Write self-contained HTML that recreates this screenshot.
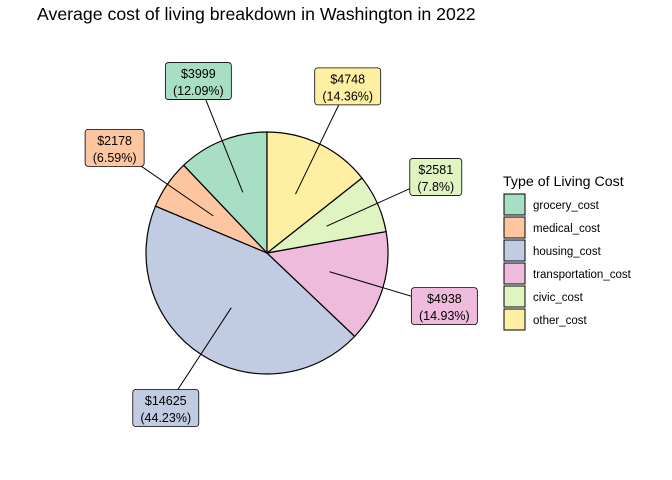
<!DOCTYPE html>
<html><head><meta charset="utf-8"><style>
body{margin:0;background:#fff;}
svg{display:block;font-family:"Liberation Sans",sans-serif;}
</style></head><body>
<svg id="chart" width="672" height="480">
<text x="37" y="20" font-size="17.7" fill="#000">Average cost of living breakdown in Washington in 2022</text>
<g id="slices"></g>
<g id="labels"></g>
<g id="legend">
<text x="503" y="186" font-size="14.2">Type of Living Cost</text>
</g>
</svg>
<script>
const categories = ["grocery_cost","medical_cost","housing_cost","transportation_cost","civic_cost","other_cost"];
const values = [3999,2178,14625,4938,2581,4748];
const percents = ["12.09%","6.59%","44.23%","14.93%","7.8%","14.36%"];
const colors = ["#A8DEC3","#FDC6A1","#C1CBE2","#EFBBDD","#E0F4C1","#FFEFA2"];
const NS="http://www.w3.org/2000/svg";
const cx=267, cy=253, R=121;
const total=values.reduce((a,b)=>a+b,0);
function pt(frac,r){const a=frac*2*Math.PI;return [cx - r*Math.sin(a), cy - r*Math.cos(a)];}
const sg=document.getElementById('slices'), lg=document.getElementById('labels'), leg=document.getElementById('legend');
let cum=0;
values.forEach((v,i)=>{
  const f0=cum/total, f1=(cum+v)/total; cum+=v;
  const p0=pt(f0,R), p1=pt(f1,R);
  const large=(f1-f0)>0.5?1:0;
  const path=document.createElementNS(NS,'path');
  path.setAttribute('d',`M${cx},${cy} L${p0[0]},${p0[1]} A${R},${R} 0 ${large} 0 ${p1[0]},${p1[1]} Z`);
  path.setAttribute('fill',colors[i]);path.setAttribute('stroke','#000');path.setAttribute('stroke-width','1.2');
  
  
  sg.appendChild(path);
  const fm=(f0+f1)/2, pin=pt(fm,R*0.54), pl=pt(fm,R*1.53);
  const ln=document.createElementNS(NS,'line');
  ln.setAttribute('x1',pin[0]);ln.setAttribute('y1',pin[1]);ln.setAttribute('x2',pl[0]);ln.setAttribute('y2',pl[1]);
  ln.setAttribute('stroke','#000');ln.setAttribute('stroke-width','1');
  
  
  lg.appendChild(ln);
  const g=document.createElementNS(NS,'g');
  
  
  const t1='$'+values[i], t2='('+percents[i]+')';
  const w=Math.max(t1.length,t2.length)*7+10, h=37;
  const rect=document.createElementNS(NS,'rect');
  rect.setAttribute('x',pl[0]-w/2);rect.setAttribute('y',pl[1]-h/2);rect.setAttribute('width',w);rect.setAttribute('height',h);
  rect.setAttribute('rx',3);rect.setAttribute('fill',colors[i]);rect.setAttribute('stroke','#000');rect.setAttribute('stroke-width','0.8');
  g.appendChild(rect);
  [t1,t2].forEach((s,k)=>{const t=document.createElementNS(NS,'text');
    t.setAttribute('x',pl[0]);t.setAttribute('y',pl[1]-3+k*17);t.setAttribute('text-anchor','middle');t.setAttribute('font-size','12.5');
    t.textContent=s;g.appendChild(t);});
  lg.appendChild(g);
  const k=document.createElementNS(NS,'rect');
  k.setAttribute('x',504);k.setAttribute('y',194+i*23);k.setAttribute('width',21);k.setAttribute('height',21);
  k.setAttribute('fill',colors[i]);k.setAttribute('stroke','#000');k.setAttribute('stroke-width','1');
  
  
  leg.appendChild(k);
  const lt=document.createElementNS(NS,'text');
  lt.setAttribute('x',533);lt.setAttribute('y',209+i*23);lt.setAttribute('font-size','11.5');lt.textContent=categories[i];
  
  
  leg.appendChild(lt);
});
</script>
</body></html>
